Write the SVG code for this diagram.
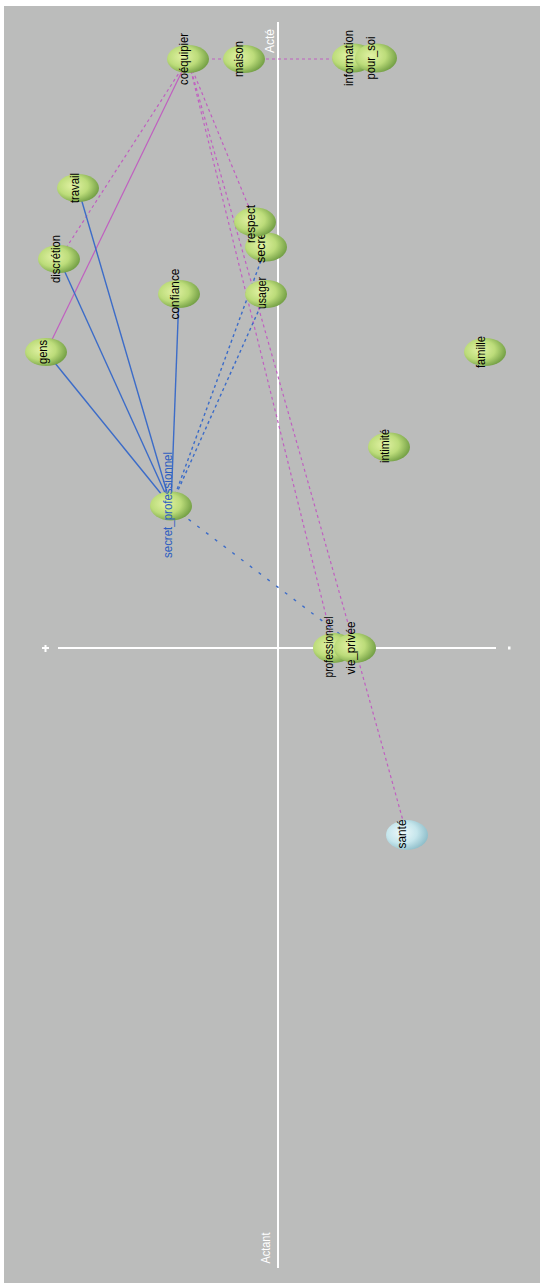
<svg xmlns="http://www.w3.org/2000/svg" width="544" height="1287" viewBox="0 0 544 1287">
<defs>
<radialGradient id="gGreen" cx="38%" cy="42%" r="65%">
<stop offset="0" stop-color="#e2f2a4"/>
<stop offset="0.55" stop-color="#bcdc7a"/>
<stop offset="1" stop-color="#6f9c42"/>
</radialGradient>
<radialGradient id="gBlue" cx="38%" cy="42%" r="65%">
<stop offset="0" stop-color="#eef9fb"/>
<stop offset="0.55" stop-color="#c6e6ec"/>
<stop offset="1" stop-color="#8cbcc8"/>
</radialGradient>
</defs>
<style>
.node ellipse{fill:url(#gGreen);}
.node.blue ellipse{fill:url(#gBlue);}
text{font-family:"Liberation Sans",Arial,sans-serif;font-size:13px;text-anchor:middle;fill:#000;}
.central text{fill:#2f5fc0;}
.axis{stroke:#ffffff;stroke-width:2;fill:none;}
.axislabel{fill:#ffffff;font-size:12px;}
.m{stroke:#c060c0;stroke-width:1.2;fill:none;}
.b{stroke:#3c6cc8;stroke-width:1.4;fill:none;}
.d{stroke-dasharray:3 3;}
.dl{stroke-dasharray:3 8;}
</style>
<rect x="0" y="0" width="544" height="1287" fill="#ffffff"/>
<rect x="4" y="6" width="536" height="1277" fill="#bbbcbb"/>
<g id="axes">
<line class="axis" x1="278" y1="22" x2="278" y2="1268"/>
<line class="axis" x1="58" y1="648" x2="496" y2="648"/>
<path class="axis" d="M42 648h7M45.5 645v7" stroke-width="1.5"/>
<rect x="508" y="646.5" width="2.5" height="3" fill="#ffffff"/>
<text class="axislabel" transform="translate(274,41) rotate(-90)" textLength="24" lengthAdjust="spacingAndGlyphs">Acté</text>
<text class="axislabel" transform="translate(270,1248) rotate(-90)" textLength="31" lengthAdjust="spacingAndGlyphs">Actant</text>
</g>
<g id="connectors">
<line class="m d" x1="188" y1="59" x2="353" y2="59"/>
<line class="m" x1="188" y1="59" x2="46" y2="352"/>
<line class="m d" x1="188" y1="59" x2="59" y2="259"/>
<line class="m d" x1="188" y1="59" x2="255" y2="222"/>
<line class="m d" x1="188" y1="59" x2="334" y2="648"/>
<line class="m d" x1="188" y1="59" x2="355" y2="648"/>
<line class="m d" x1="355" y1="648" x2="407" y2="835"/>
<line class="b" x1="171" y1="506" x2="46" y2="352"/>
<line class="b" x1="171" y1="506" x2="59" y2="259"/>
<line class="b" x1="171" y1="506" x2="78" y2="188"/>
<line class="b" x1="171" y1="506" x2="179" y2="294"/>
<line class="b d" x1="171" y1="506" x2="266" y2="247"/>
<line class="b d" x1="171" y1="506" x2="266" y2="294"/>
<line class="b dl" x1="171" y1="506" x2="358" y2="648"/>
</g>
<g id="n-coequipier" class="node"><ellipse cx="188" cy="59" rx="21" ry="14"/><text transform="translate(188,59) rotate(-90)" textLength="52" lengthAdjust="spacingAndGlyphs">coéquipier</text></g>
<g id="n-maison" class="node"><ellipse cx="244" cy="59" rx="21" ry="14"/><text transform="translate(243,59) rotate(-90)" textLength="36" lengthAdjust="spacingAndGlyphs">maison</text></g>
<g id="n-information" class="node"><ellipse cx="353" cy="58" rx="21" ry="14.5"/><text transform="translate(353,58) rotate(-90)" textLength="56" lengthAdjust="spacingAndGlyphs">information</text></g>
<g id="n-pour_soi" class="node"><ellipse cx="376" cy="58" rx="21" ry="14.5"/><text transform="translate(375,58) rotate(-90)" textLength="43" lengthAdjust="spacingAndGlyphs">pour_soi</text></g>
<g id="n-travail" class="node"><ellipse cx="78" cy="188" rx="21" ry="14"/><text transform="translate(79,188) rotate(-90)" textLength="30" lengthAdjust="spacingAndGlyphs">travail</text></g>
<g id="n-discretion" class="node"><ellipse cx="59" cy="259" rx="21" ry="14"/><text transform="translate(60,259) rotate(-90)" textLength="48" lengthAdjust="spacingAndGlyphs">discrétion</text></g>
<g id="n-confiance" class="node"><ellipse cx="179" cy="294" rx="21" ry="14"/><text transform="translate(179,294) rotate(-90)" textLength="51" lengthAdjust="spacingAndGlyphs">confiance</text></g>
<g id="n-gens" class="node"><ellipse cx="46" cy="352" rx="21" ry="14"/><text transform="translate(47,352) rotate(-90)" textLength="24" lengthAdjust="spacingAndGlyphs">gens</text></g>
<g id="n-secret" class="node"><ellipse cx="266" cy="247" rx="21" ry="14.5"/><text transform="translate(265,246) rotate(-90)" textLength="34" lengthAdjust="spacingAndGlyphs">secret</text></g>
<g id="n-respect" class="node"><ellipse cx="255" cy="222" rx="21" ry="14.5"/><text transform="translate(255,224) rotate(-90)" textLength="38" lengthAdjust="spacingAndGlyphs">respect</text></g>
<g id="n-usager" class="node"><ellipse cx="266" cy="294" rx="21" ry="14"/><text transform="translate(266,293) rotate(-90)" textLength="32" lengthAdjust="spacingAndGlyphs">usager</text></g>
<g id="n-secret_professionnel" class="node central"><ellipse cx="171" cy="506" rx="21" ry="14.5"/><text transform="translate(172,505) rotate(-90)" textLength="106" lengthAdjust="spacingAndGlyphs">secret_professionnel</text></g>
<g id="n-intimite" class="node"><ellipse cx="389" cy="447" rx="21" ry="14.5"/><text transform="translate(389,446) rotate(-90)" textLength="34" lengthAdjust="spacingAndGlyphs">intimité</text></g>
<g id="n-famille" class="node"><ellipse cx="485" cy="352" rx="21" ry="14"/><text transform="translate(485,352) rotate(-90)" textLength="32" lengthAdjust="spacingAndGlyphs">famille</text></g>
<g id="n-professionnel" class="node"><ellipse cx="334" cy="648" rx="21" ry="15"/><text transform="translate(333,647) rotate(-90)" textLength="61" lengthAdjust="spacingAndGlyphs">professionnel</text></g>
<g id="n-vie_privee" class="node"><ellipse cx="355" cy="648" rx="21" ry="15"/><text transform="translate(355,648) rotate(-90)" textLength="53" lengthAdjust="spacingAndGlyphs">vie_privée</text></g>
<g id="n-sante" class="node blue"><ellipse cx="407" cy="835" rx="21" ry="15"/><text transform="translate(406,834) rotate(-90)" textLength="29" lengthAdjust="spacingAndGlyphs">santé</text></g>
</svg>
